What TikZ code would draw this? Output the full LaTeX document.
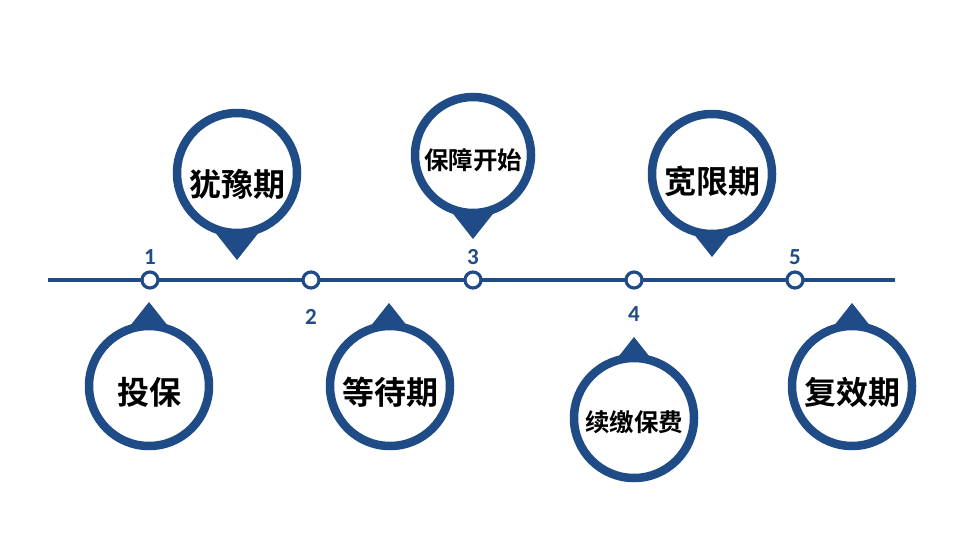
\documentclass[tikz,border=0pt]{standalone}
\usepackage{fontspec}
\newfontfamily\cjk{Noto Sans CJK SC}[BoldFont={Noto Sans CJK SC Bold}]
\newfontfamily\numfont{Carlito}[BoldFont={Carlito Bold}]
\definecolor{pinblue}{RGB}{31,75,135}
\begin{document}
\begin{tikzpicture}[x=1pt,y=-1pt,
  ring/.style={draw=pinblue,line width=8.5pt,fill=white},
  tri/.style={fill=pinblue},
  dot/.style={circle,draw=pinblue,line width=3.2pt,fill=white,minimum size=16pt,inner sep=0pt},
  numlabel/.style={text=pinblue,inner sep=0pt},
  bigtxt/.style={font=\cjk\bfseries\fontsize{32}{32}\selectfont,inner sep=0pt},
  smalltxt/.style={font=\cjk\bfseries\fontsize{24.5}{24.5}\selectfont,inner sep=0pt}]
\useasboundingbox (0,0) rectangle (960,540);
\fill[white] (0,0) rectangle (960,540);
% timeline
\coordinate (L) at (48,280);
\coordinate (R) at (895,280);
\draw[pinblue,line width=3.5pt] (L) -- (R);
\node[dot] (d1) at (150,280) {};
\node[dot] (d2) at (311,280) {};
\node[dot] (d3) at (473,280) {};
\node[dot] (d4) at (634,280) {};
\node[dot] (d5) at (795,280) {};
\newcommand\numtxt[1]{{\numfont\bfseries\fontsize{23}{23}\selectfont #1}}
\node[numlabel] (n1) at (150,257) {\numtxt{1}};
\node[numlabel] (n2) at (311,317) {\numtxt{2}};
\node[numlabel] (n3) at (473,257) {\numtxt{3}};
\node[numlabel] (n4) at (634,314) {\numtxt{4}};
\node[numlabel] (n5) at (795,257) {\numtxt{5}};
% upper pins (pointing down)
\fill[tri] (214,231) -- (237,260) -- (260,231) -- cycle;
\draw[ring] (237,173) circle (60);
\node[bigtxt] (t2) at (237,184) {犹豫期};
\fill[tri] (450,210) -- (473,239) -- (496,210) -- cycle;
\draw[ring] (473,155) circle (58);
\node[smalltxt] (t4) at (473,160) {保障开始};
\fill[tri] (689,228) -- (712,257) -- (735,228) -- cycle;
\draw[ring] (712,174) circle (60);
\node[bigtxt] (t6) at (712,181) {宽限期};
% lower pins (pointing up)
\fill[tri] (126,331) -- (149,302) -- (172,331) -- cycle;
\draw[ring] (149,386) circle (60);
\node[bigtxt] (t1) at (149,392) {投保};
\fill[tri] (366,332) -- (389,303) -- (412,332) -- cycle;
\draw[ring] (390,386) circle (60);
\node[bigtxt] (t3) at (390,392) {等待期};
\fill[tri] (611,366) -- (634,337) -- (657,366) -- cycle;
\draw[ring] (634,418) circle (60);
\node[smalltxt] (t5) at (634,422) {续缴保费};
\fill[tri] (829,332) -- (852,303) -- (875,332) -- cycle;
\draw[ring] (852,386) circle (60);
\node[bigtxt] (t7) at (852,392) {复效期};
\end{tikzpicture}
\end{document}
